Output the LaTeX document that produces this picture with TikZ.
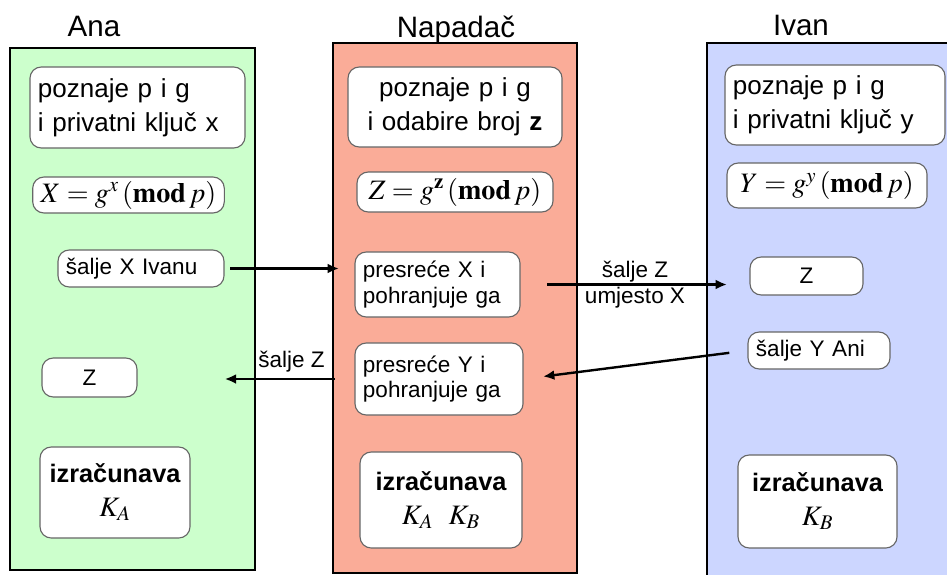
\documentclass[tikz,border=0pt]{standalone}
\usepackage{mathptmx}
\usepackage[no-math]{fontspec}
\setmainfont{Liberation Sans}
\usetikzlibrary{arrows.meta, positioning, calc}
\definecolor{anagreen}{RGB}{204,255,204}
\definecolor{napadacred}{RGB}{250,172,152}
\definecolor{ivanblue}{RGB}{204,214,255}

\begin{document}
\begin{tikzpicture}[x=0.025cm, y=-0.025cm,
    stupac/.style={rectangle, draw=black, line width=2pt},
    naslov/.style={anchor=base, font=\fontsize{21}{24}\selectfont},
    kutija/.style={rectangle, draw=black!60, fill=white, rounded corners=8pt, line width=0.8pt,
        inner xsep=0.2cm, inner ysep=3pt, font=\fontsize{18.5}{24}\selectfont},
    jednadzba/.style={kutija, inner ysep=1pt, font=\fontsize{20}{24}\selectfont},
    racun/.style={kutija, font=\fontsize{20}{24}\selectfont, align=center},
    mala/.style={kutija, font=\fontsize{16}{18}\selectfont},
    strelica/.style={-{Latex[length=8pt, width=7pt]}, line width=1.7pt},
    oznaka/.style={font=\fontsize{16}{18}\selectfont, inner sep=1pt}]
    \useasboundingbox (0,0) rectangle (947,574);
    \clip (0,0) rectangle (947,574);

    % Ana
    \node[stupac, fill=anagreen, minimum width=6.125cm, minimum height=13.05cm] (ana) at (132.5,309) {};
    \node[naslov] at (94,36) {Ana};
    \node[kutija, minimum width=5.375cm, minimum height=2.025cm, text width=4.975cm, align=left] (ana1) at (137.5,107.5) {poznaje p i g\\ i privatni ključ x};
    \node[jednadzba, minimum width=4.675cm, minimum height=0.9cm] (ana2) at (128.5,195) {$X = g^{x}\,(\mathbf{mod}\,p)$};
    \node[mala, minimum width=4.15cm, minimum height=0.925cm, text width=3.75cm, align=left] (ana3) at (141,268.5) {šalje X Ivanu};
    \node[mala, minimum width=2.375cm, minimum height=0.975cm] (ana4) at (89.5,377.5) {Z};
    \node[racun, minimum width=3.75cm, minimum height=2.275cm, text width=3.35cm] (ana5) at (115,492.5) {{\fontsize{18}{22}\selectfont\bfseries izračunava}\\ $K_A$};

    % Napadac
    \node[stupac, fill=napadacred, minimum width=6.1cm, minimum height=13.25cm] (nap) at (455,308) {};
    \node[naslov] at (456,37) {Napadač};
    \node[kutija, minimum width=5.35cm, minimum height=2cm, text width=4.95cm, align=center] (nap1) at (455,107) {poznaje p i g\\ i odabire broj \textbf{z}};
    \node[jednadzba, minimum width=4.9cm, minimum height=1cm] (nap2) at (455,192) {$Z = g^{\mathbf{z}}\,(\mathbf{mod}\,p)$};
    \node[mala, minimum width=4.125cm, minimum height=1.625cm, text width=3.725cm, align=left] (nap3) at (437.5,284.5) {presreće X i\\ pohranjuje ga};
    \node[mala, minimum width=4.2cm, minimum height=1.8cm, text width=3.8cm, align=left] (nap4) at (439,379) {presreće Y i\\ pohranjuje ga};
    \node[racun, minimum width=4.05cm, minimum height=2.4cm, text width=3.65cm] (nap5) at (441,500) {{\fontsize{18}{22}\selectfont\bfseries izračunava}\\ $K_A\;\;K_B$};

    % Ivan
    \node[stupac, fill=ivanblue, minimum width=7.25cm, minimum height=14.425cm] (ivan) at (852,331.5) {};
    \node[naslov] at (801,35) {Ivan};
    \node[kutija, minimum width=5.5cm, minimum height=2cm, text width=5.1cm, align=left] (ivan1) at (835,105) {poznaje p i g\\ i privatni ključ y};
    \node[jednadzba, minimum width=5cm, minimum height=1.125cm] (ivan2) at (827,185.5) {$Y = g^{y}\,(\mathbf{mod}\,p)$};
    \node[mala, minimum width=2.825cm, minimum height=0.95cm] (ivan3) at (806.5,276) {Z};
    \node[mala, minimum width=3.55cm, minimum height=0.925cm, text width=3.15cm, align=left] (ivan4) at (819,350.5) {šalje Y Ani};
    \node[racun, minimum width=3.975cm, minimum height=2.325cm, text width=3.575cm] (ivan5) at (817.5,501.5) {{\fontsize{18}{22}\selectfont\bfseries izračunava}\\ $K_B$};

    % Strelice
    \draw[strelica, shorten <=4pt, shorten >=11pt] (ana3.east) -- (ana3.east -| nap3.west);
    \draw[strelica, shorten <=19pt, shorten >=16pt] (nap3.east) -- (nap3.east -| ivan3.west)
        node[oznaka, midway, above] {šalje Z}
        node[oznaka, midway, below] {umjesto X};
    \draw[strelica, shorten <=13pt, shorten >=14pt] (ivan4.west) -- (nap4.east);
    \draw[strelica, shorten <=14pt, shorten >=62pt] (nap4.west) -- (nap4.west -| ana4.east)
        node[oznaka, pos=0.29, above=3pt] {šalje Z};
\end{tikzpicture}
\end{document}
